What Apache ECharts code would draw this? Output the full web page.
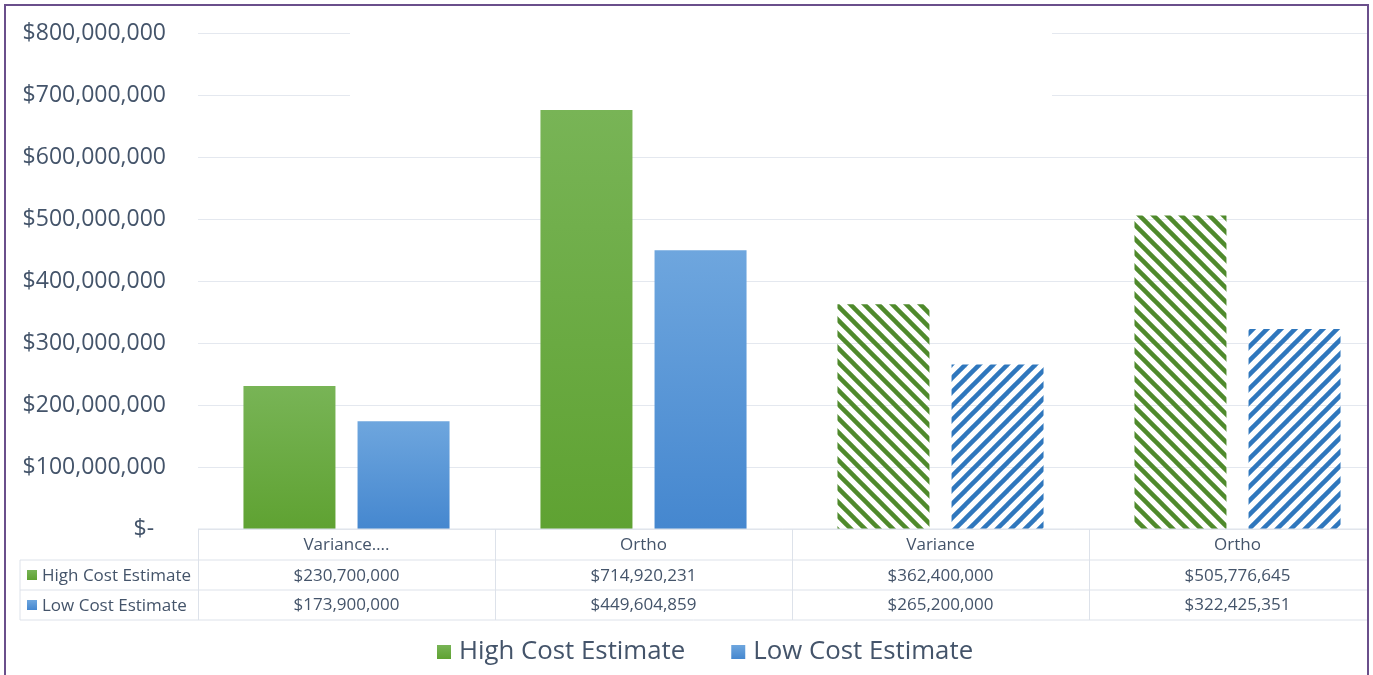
<!DOCTYPE html>
<html>
<head>
<meta charset="utf-8">
<script src="https://cdn.jsdelivr.net/npm/echarts@6/dist/echarts.min.js"></script>
<style>
html, body { margin: 0; padding: 0; background: #fff; }
#chart { width: 1373px; height: 675px; }
</style>
</head>
<body>
<div id="chart"></div>
<script>
// data
const categories = ["Variance….", "Ortho", "Variance", "Ortho"];
const seriesNames = ["High Cost Estimate", "Low Cost Estimate"];
const highValues = [230700000, 676000000, 362400000, 505776645];
const lowValues = [173900000, 449604859, 265200000, 322425351];
const highLabels = ["$230,700,000", "$714,920,231", "$362,400,000", "$505,776,645"];
const lowLabels = ["$173,900,000", "$449,604,859", "$265,200,000", "$322,425,351"];
const hatched = [false, false, true, true];

const textColor = "#44546a";
const fontFamily = "'Open Sans', 'Noto Sans', sans-serif";
const lineColor = "#dde2ea";

function stripes(color, dir) {
    const s = 14;
    const c = document.createElement("canvas");
    c.width = s; c.height = s;
    const ctx = c.getContext("2d");
    ctx.strokeStyle = color;
    ctx.lineWidth = 4.5;
    for (let k = -1; k <= 2; k++) {
        ctx.beginPath();
        if (dir === "\\") {
            ctx.moveTo(-s, k * s - s);
            ctx.lineTo(2 * s, k * s + 2 * s);
        } else {
            ctx.moveTo(-s, k * s + s);
            ctx.lineTo(2 * s, k * s - 2 * s);
        }
        ctx.stroke();
    }
    return { image: c, repeat: "repeat" };
}

const greenFill = new echarts.graphic.LinearGradient(0, 0, 0, 1, [
    { offset: 0, color: "#78b456" },
    { offset: 1, color: "#5fa232" }
]);
const blueFill = new echarts.graphic.LinearGradient(0, 0, 0, 1, [
    { offset: 0, color: "#6ea6de" },
    { offset: 1, color: "#4587cf" }
]);
const greenHatch = stripes("#4f8a2c", "\\");
const blueHatch = stripes("#2f77bd", "/");

function toData(values, hatch) {
    return values.map((v, i) => hatched[i]
        ? { value: v, itemStyle: { color: hatch } }
        : v);
}

const myChart = echarts.init(document.getElementById("chart"));

const option = {
    animation: false,
    textStyle: { fontFamily: fontFamily },
    grid: { left: 198, top: 33, width: 1188, height: 496, outerBoundsMode: "none", containLabel: false },
    legend: {
        top: 639,
        left: 437,
        itemWidth: 14,
        itemHeight: 14,
        itemGap: 46,
        icon: "rect",
        padding: 0,
        data: seriesNames,
        textStyle: { color: textColor, fontSize: 25.8, fontFamily: fontFamily, padding: [0, 0, 0, 3] }
    },
    xAxis: {
        type: "category",
        data: categories,
        axisLine: { show: false },
        axisTick: { show: false },
        axisLabel: { show: false }
    },
    yAxis: {
        type: "value",
        min: 0,
        max: 800000000,
        interval: 100000000,
        axisLine: { show: false },
        axisTick: { show: false },
        splitLine: { lineStyle: { color: "#e4e8ef", width: 1 } },
        axisLabel: {
            color: textColor,
            fontSize: 23,
            margin: 32,
            fontFamily: fontFamily,
            formatter: v => v === 0 ? "$-  " : "$" + v.toLocaleString("en-US")
        }
    },
    series: [
        {
            name: seriesNames[0],
            type: "bar",
            barWidth: 92,
            barGap: "24%",
            itemStyle: { color: greenFill },
            data: toData(highValues, greenHatch)
        },
        {
            name: seriesNames[1],
            type: "bar",
            barWidth: 92,
            itemStyle: { color: blueFill },
            data: toData(lowValues, blueHatch)
        }
    ]
};
myChart.setOption(option);

// data table under the plot, laid out from the category axis
const c0 = myChart.convertToPixel({ xAxisIndex: 0 }, 0);
const c1 = myChart.convertToPixel({ xAxisIndex: 0 }, 1);
const band = c1 - c0;
const y0 = myChart.convertToPixel({ yAxisIndex: 0 }, 0);
const rowH = [31, 30, 30];
const rowTop = [y0, y0 + rowH[0], y0 + rowH[0] + rowH[1]];
const tableBottom = rowTop[2] + rowH[2];
const leftX = 20;
const gridLeft = 198;
const rightX = 1367;
const g = [];

function hline(x1, x2, y) {
    g.push({ type: "line", shape: { x1: x1, y1: y, x2: x2, y2: y }, style: { stroke: lineColor, lineWidth: 1 }, z: 10 });
}
function vline(x, y1, y2) {
    g.push({ type: "line", shape: { x1: x, y1: y1, x2: x, y2: y2 }, style: { stroke: lineColor, lineWidth: 1 }, z: 10 });
}
function label(text, x, y, align) {
    g.push({
        type: "text", x: x, y: y, z: 10,
        style: { text: text, fill: textColor, font: "17px " + fontFamily, align: align, verticalAlign: "middle" }
    });
}

hline(gridLeft, rightX, rowTop[0]);
hline(leftX, rightX, rowTop[1]);
hline(leftX, rightX, rowTop[2]);
hline(leftX, rightX, tableBottom);
vline(leftX, rowTop[1], tableBottom);
categories.forEach((c, i) => {
    const cx = myChart.convertToPixel({ xAxisIndex: 0 }, i);
    vline(Math.round(cx - band / 2) + 0.5, rowTop[0], tableBottom);
    label(c, cx, rowTop[0] + rowH[0] / 2 + 1, "center");
    label(highLabels[i], cx, rowTop[1] + rowH[1] / 2 + 1, "center");
    label(lowLabels[i], cx, rowTop[2] + rowH[2] / 2, "center");
});
[[greenFill, seriesNames[0], 1], [blueFill, seriesNames[1], 2]].forEach(([fill, name, r]) => {
    const cy = rowTop[r] + rowH[r] / 2;
    g.push({ type: "rect", shape: { x: 27, y: cy - 5, width: 10, height: 10 }, style: { fill: fill }, z: 10 });
    label(name, 42, cy + 1, "left");
});

// blank band over the top gridlines and the outer frame
g.push({ type: "rect", shape: { x: 350, y: 20, width: 702, height: 85 }, style: { fill: "#fff" }, z: 5 });
g.push({ type: "rect", shape: { x: 1369, y: 0, width: 10, height: 675 }, style: { fill: "#fff" }, z: 50 });
g.push({ type: "rect", shape: { x: 5, y: 5, width: 1363, height: 700 }, style: { fill: "none", stroke: "#6a4f8b", lineWidth: 2 }, z: 60 });

myChart.setOption({ graphic: g });
</script>
</body>
</html>
